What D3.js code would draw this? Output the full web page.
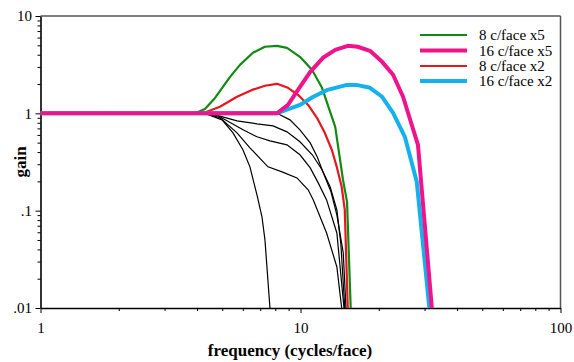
<!DOCTYPE html>
<html>
<head>
<meta charset="utf-8">
<script src="https://cdn.jsdelivr.net/npm/d3@7.9.0/dist/d3.min.js"></script>
<style>
  body { margin: 0; background: #fff; }
  svg { display: block; }
</style>
</head>
<body>
<svg width="574" height="362"></svg>
<script>
// values (frequency in cycles/face, gain)
const green8x5Freq = [1, 3.93, 4.29, 4.69, 5.36, 5.85, 6.56, 7.3, 8.12, 8.87, 9.95, 11.07, 12.1, 13.6, 14.57, 15.1, 15.6];
const green8x5Gain = [1, 1, 1.11, 1.44, 2.37, 3.15, 4.19, 4.83, 4.94, 4.71, 3.81, 2.8, 1.83, 0.727, 0.207, 0.123, 0.01];

const red8x2Freq = [1, 4.29, 4.9, 5.7, 6.51, 7.3, 8.12, 8.95, 9.78, 10.7, 11.57, 12.4, 13.2, 13.8, 14.4, 14.8, 15.2];
const red8x2Gain = [1, 1.02, 1.17, 1.48, 1.74, 1.92, 2.01, 1.83, 1.55, 1.22, 0.9, 0.63, 0.42, 0.28, 0.176, 0.102, 0.01];

const pink16x5Freq = [1, 8.12, 8.95, 9.78, 10.9, 12.2, 13.6, 15.2, 16.6, 18.5, 20.6, 22.7, 24.8, 28.3, 32.0];
const pink16x5Gain = [1, 1, 1.22, 1.74, 2.67, 3.72, 4.49, 4.94, 4.83, 4.39, 3.38, 2.49, 1.48, 0.474, 0.01];

const cyan16x2Freq = [1, 8.12, 8.87, 9.95, 11.2, 12.7, 15.1, 16.4, 18.5, 20.6, 22.7, 25.2, 28.0, 31.3];
const cyan16x2Gain = [1, 1, 1.09, 1.22, 1.48, 1.74, 1.96, 1.96, 1.83, 1.48, 1.01, 0.574, 0.198, 0.01];

// thin black curves
const black1Freq = [1, 8.12, 9.11, 9.95, 10.9, 11.6, 12.2, 13.1, 13.8, 14.6, 14.96];
const black1Gain = [1, 1, 0.857, 0.677, 0.497, 0.357, 0.25, 0.156, 0.0905, 0.037, 0.01];
const black2Freq = [1, 4.49, 5.7, 6.8, 7.84, 8.87, 9.95, 11.1, 12.1, 13.0, 13.8, 14.3, 14.8];
const black2Gain = [1, 1, 0.837, 0.78, 0.744, 0.645, 0.51, 0.375, 0.263, 0.176, 0.102, 0.045, 0.01];
const black3Freq = [1, 4.29, 4.82, 6.01, 6.8, 7.63, 8.87, 9.95, 10.9, 11.7, 12.6, 13.8, 14.7];
const black3Gain = [1, 1, 0.943, 0.677, 0.574, 0.522, 0.474, 0.375, 0.275, 0.193, 0.129, 0.059, 0.01];
const black4Freq = [1, 4.29, 4.9, 5.7, 6.39, 7.5, 8.49, 9.69, 10.7, 11.2, 12.6, 13.8, 14.4];
const black4Gain = [1, 1, 0.9, 0.63, 0.442, 0.282, 0.25, 0.217, 0.164, 0.129, 0.059, 0.0264, 0.01];
const black5Freq = [1, 4.29, 4.99, 5.5, 6.01, 6.39, 6.8, 7.11, 7.3, 7.63];
const black5Gain = [1, 1, 0.857, 0.63, 0.42, 0.282, 0.145, 0.0863, 0.05, 0.01];

const legendLabels = ["8 c/face x5", "16 c/face x5", "8 c/face x2", "16 c/face x2"];
const xTickValues = [1, 10, 100];
const yTickValues = [0.01, 0.1, 1, 10];
const yTickLabels = [".01", ".1", "1", "10"];

const serif = '"Liberation Serif"';

const svg = d3.select("svg");
const plotLeft = 40.5, plotRight = 560.5, plotTop = 16, plotBottom = 308;

const x = d3.scaleLog().domain([1, 100]).range([plotLeft, plotRight]);
const y = d3.scaleLog().domain([0.01, 10]).range([plotBottom, plotTop]);

const line = d3.line().x(d => x(d[0])).y(d => y(d[1]));

// frame (top and right in grey)
svg.append("line").attr("x1", plotLeft).attr("x2", plotRight).attr("y1", plotTop).attr("y2", plotTop)
  .attr("stroke", "#555").attr("stroke-width", 1.5);
svg.append("line").attr("x1", plotRight).attr("x2", plotRight).attr("y1", plotTop).attr("y2", plotBottom)
  .attr("stroke", "#555").attr("stroke-width", 1.5);

// minor ticks
const xMinor = x.ticks().filter(v => !xTickValues.includes(v));
const yMinor = y.ticks().filter(v => !yTickValues.some(t => Math.abs(t - v) < 1e-9));

svg.append("g").attr("transform", `translate(0,${plotBottom})`)
  .call(d3.axisBottom(x).tickValues(xMinor).tickSize(3).tickFormat("").tickSizeOuter(0))
  .call(g => g.select(".domain").remove());
svg.append("g").attr("transform", `translate(${plotLeft},0)`)
  .call(d3.axisLeft(y).tickValues(yMinor).tickSize(3).tickFormat("").tickSizeOuter(0))
  .call(g => g.select(".domain").remove());

// major axes
const xAxis = svg.append("g").attr("transform", `translate(0,${plotBottom})`)
  .call(d3.axisBottom(x).tickValues(xTickValues).tickSize(5).tickPadding(9.5)
    .tickFormat(d3.format("d")).tickSizeOuter(0));
const yAxis = svg.append("g").attr("transform", `translate(${plotLeft},0)`)
  .call(d3.axisLeft(y).tickValues(yTickValues).tickSize(5).tickPadding(3.5)
    .tickFormat((d, i) => yTickLabels[i]).tickSizeOuter(0));

[xAxis, yAxis].forEach(g => {
  g.attr("font-family", null).attr("font-size", null);
  g.selectAll("text").style("font-family", serif).attr("font-size", 15).attr("fill", "#000");
  g.select(".domain").attr("stroke-width", 1.6);
});
svg.selectAll(".tick line").attr("stroke", "#000").attr("stroke-width", 1);

// curves
const blacks = [
  [black1Freq, black1Gain], [black2Freq, black2Gain], [black3Freq, black3Gain],
  [black4Freq, black4Gain], [black5Freq, black5Gain]
];
blacks.forEach(([f, g]) => {
  svg.append("path").datum(d3.zip(f, g)).attr("d", line)
    .attr("fill", "none").attr("stroke", "#000").attr("stroke-width", 1.2);
});

const series = [
  { f: red8x2Freq, g: red8x2Gain, color: "#e8161e", w: 2.2 },
  { f: green8x5Freq, g: green8x5Gain, color: "#128a12", w: 2.2 },
  { f: cyan16x2Freq, g: cyan16x2Gain, color: "#14b1ec", w: 4 },
  { f: pink16x5Freq, g: pink16x5Gain, color: "#ef148c", w: 4 }
];
series.forEach(s => {
  svg.append("path").datum(d3.zip(s.f, s.g)).attr("d", line)
    .attr("fill", "none").attr("stroke", s.color).attr("stroke-width", s.w)
    .attr("stroke-linejoin", "round");
});

// legend
const legendColors = ["#128a12", "#ef148c", "#e8161e", "#14b1ec"];
const legendWidths = [2.2, 4, 2.2, 4];
const legendY = [35, 50.5, 66, 81];
legendLabels.forEach((lab, i) => {
  svg.append("line").attr("x1", 420).attr("x2", 467).attr("y1", legendY[i]).attr("y2", legendY[i])
    .attr("stroke", legendColors[i]).attr("stroke-width", legendWidths[i]);
  svg.append("text").attr("x", 479).attr("y", legendY[i]).attr("dy", "0.35em")
    .style("font-family", serif).attr("font-size", 15).text(lab);
});

// axis titles
svg.append("text").attr("x", 290).attr("y", 356).attr("text-anchor", "middle")
  .style("font-family", serif).attr("font-size", 17).attr("font-weight", "bold")
  .text("frequency (cycles/face)");
svg.append("text").attr("transform", "translate(25.5,162) rotate(-90)").attr("text-anchor", "middle")
  .style("font-family", serif).attr("font-size", 17).attr("font-weight", "bold").text("gain");
</script>
</body>
</html>
